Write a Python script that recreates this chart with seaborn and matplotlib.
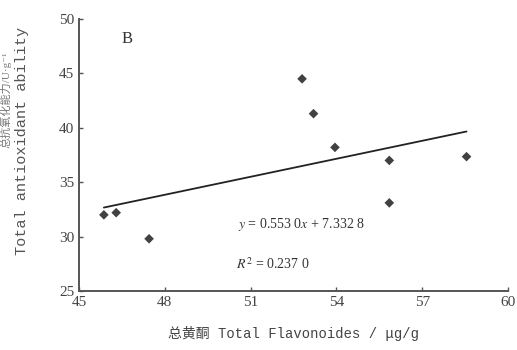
import numpy as np
import pandas as pd
import seaborn as sns
import matplotlib.pyplot as plt

flavonoids = [45.87, 46.3, 47.45, 52.8, 53.2, 53.95, 55.85, 55.85, 58.55]
antioxidant = [32.0, 32.2, 29.8, 44.5, 41.3, 38.2, 37.0, 33.1, 37.35]
x_ticks = [45, 48, 51, 54, 57, 60]
y_ticks = [25, 30, 35, 40, 45, 50]

df = pd.DataFrame({"x": flavonoids, "y": antioxidant})

sns.set_style("ticks")
plt.rcParams["font.family"] = ["Liberation Serif", "Noto Sans CJK SC", "DejaVu Sans"]
plt.rcParams["mathtext.fontset"] = "stix"

fig = plt.figure(figsize=(5.17, 3.5), dpi=100)
ax = fig.add_axes([79 / 517, 1 - 291 / 350, (508 - 79) / 517, (291 - 19) / 350])

sns.regplot(
    data=df,
    x="x",
    y="y",
    ci=None,
    ax=ax,
    marker="D",
    scatter_kws={"s": 24, "color": "#111111", "edgecolor": "none"},
    line_kws={"color": "#222222", "linewidth": 1.3},
)

ax.set_xlim(45, 60)
ax.set_ylim(25, 50)
ax.set_xticks(x_ticks)
ax.set_yticks(y_ticks)
ax.tick_params(direction="in", length=3, width=1, colors="#555555",
               labelcolor="#444444", labelsize=11)
for s in ["top", "right"]:
    ax.spines[s].set_visible(False)
for s in ["left", "bottom"]:
    ax.spines[s].set_color("#555555")
    ax.spines[s].set_linewidth(1.4)

mono = ["Liberation Mono", "Noto Sans CJK SC", "DejaVu Sans"]
ax.set_xlabel("总黄酮 Total Flavonoides / μg/g", fontsize=10, family=mono,
              color="#444444", labelpad=12)
ax.set_ylabel("Total antioxidant ability", fontsize=11, family=mono, color="#555555")
ax.yaxis.set_label_coords(-0.116, 0.55)
fig.text(0.0108, 0.714, "总抗氧化能力/U·g⁻¹", rotation=90, ha="center", va="center",
         fontsize=8, color="#777777")

ax.text(0.1, 0.91, "B", transform=ax.transAxes, fontsize=12, color="#333333")
ax.text(0.37, 0.245, "$y$ = 0.553 0$x$ + 7.332 8", transform=ax.transAxes,
        fontsize=10, color="#333333", va="center")
ax.text(0.365, 0.1, "$R^2$ = 0.237 0", transform=ax.transAxes,
        fontsize=10, color="#333333", va="center")

fig.savefig("out.png", dpi=100)
